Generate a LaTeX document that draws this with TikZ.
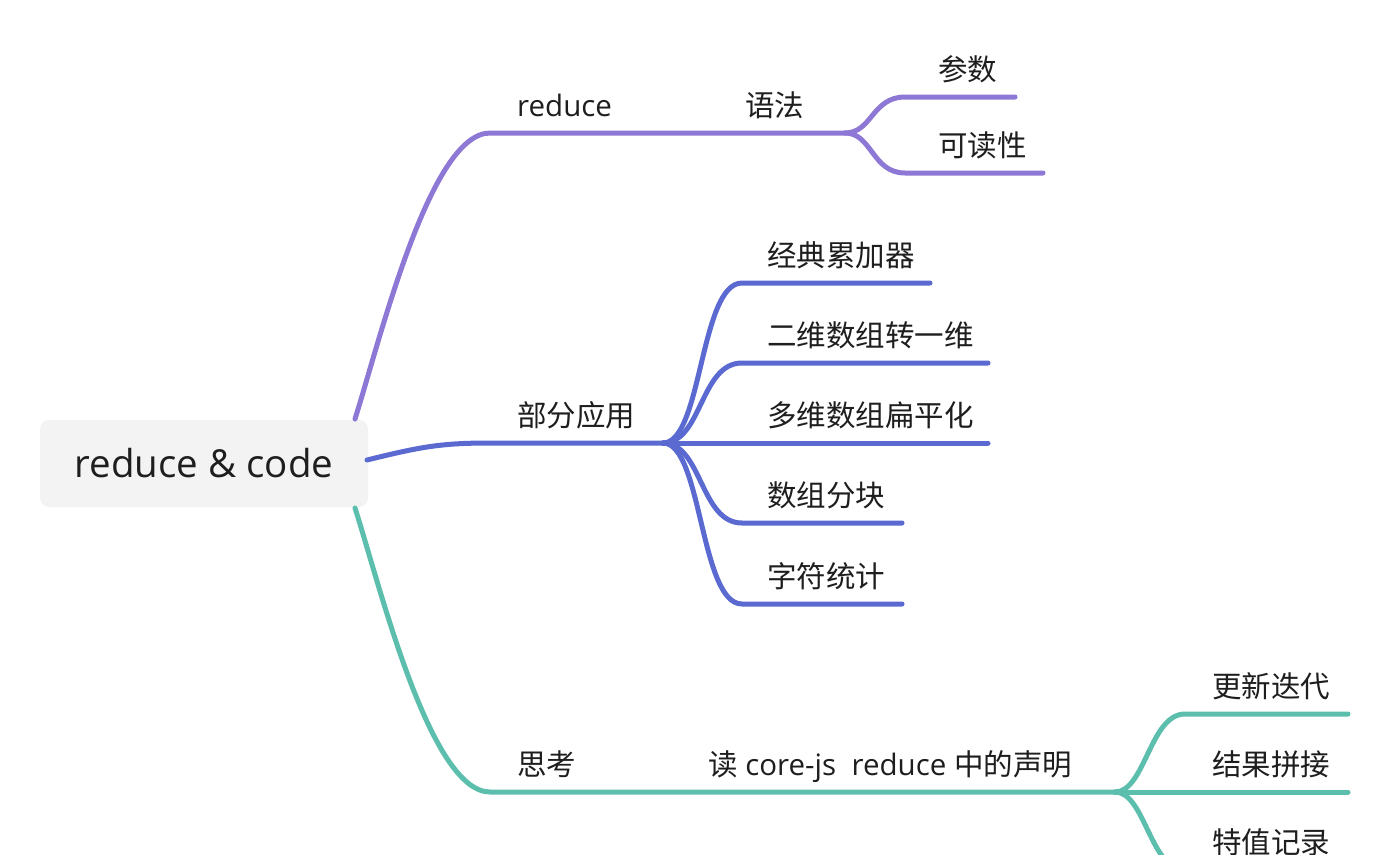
\documentclass[tikz,border=0pt]{standalone}
\usepackage{fontspec}
\setmainfont{Open Sans}
\newfontfamily\cjk{Noto Sans CJK SC}
\definecolor{cpurple}{HTML}{8D78D6}
\definecolor{cblue}{HTML}{5A6AD0}
\definecolor{cteal}{HTML}{5CBEAC}
\definecolor{rootfill}{HTML}{F3F3F3}
\definecolor{txt}{HTML}{1E1E1E}
\begin{document}
\begin{tikzpicture}[x=1pt,y=-1pt,
  rootbox/.style={fill=rootfill,rounded corners=9pt,minimum width=328pt,minimum height=87pt,inner sep=0pt,text=txt,font=\fontsize{38.5}{44}\selectfont},
  lbl/.style={anchor=base west,inner sep=0pt,text=txt,font=\fontsize{29.5}{34}\selectfont},
  conn/.style={line width=5pt,line cap=round},
  pu/.style={conn,draw=cpurple},
  bl/.style={conn,draw=cblue},
  te/.style={conn,draw=cteal}]
\useasboundingbox (0,0) rectangle (1400,854);
\clip (0,0) rectangle (1400,854);
\fill[white] (0,0) rectangle (1400,854);

% root
\node[rootbox] (root) at (204,463.5) {reduce \& code};
\coordinate (rootN) at (355,419);
\coordinate (rootE) at (367,460);
\coordinate (rootS) at (355,508);

% ---- purple branch
\coordinate (reduceL) at (490,133);
\coordinate (syntaxF) at (845,133);
\coordinate (paramL) at (905,97);
\coordinate (paramR) at (1015,97);
\coordinate (readL) at (905,173);
\coordinate (readR) at (1043,173);
\node[lbl] (reduce) at (517,116) {reduce};
\node[lbl] (syntax) at (745,116) {\cjk 语法};
\node[lbl] (param) at (938,80) {\cjk 参数};
\node[lbl] (read) at (938,156) {\cjk 可读性};
\draw[pu] (rootN) .. controls (380,340) and (430,133) .. (reduceL) -- (syntaxF);
\draw[pu] (syntaxF) .. controls (872,133) and (872,97) .. (paramL) -- (paramR);
\draw[pu] (syntaxF) .. controls (872,133) and (872,173) .. (readL) -- (readR);

% ---- blue branch
\coordinate (partL) at (490,443);
\coordinate (partF) at (663,443);
\coordinate (c1L) at (742,283) ; \coordinate (c1R) at (930,283);
\coordinate (c2L) at (742,363) ; \coordinate (c2R) at (988,363);
\coordinate (c3R) at (988,443);
\coordinate (c4L) at (742,523) ; \coordinate (c4R) at (902,523);
\coordinate (c5L) at (742,604) ; \coordinate (c5R) at (902,604);
\node[lbl] (part) at (517,426) {\cjk 部分应用};
\node[lbl] (c1) at (767,266) {\cjk 经典累加器};
\node[lbl] (c2) at (767,346) {\cjk 二维数组转一维};
\node[lbl] (c3) at (767,426) {\cjk 多维数组扁平化};
\node[lbl] (c4) at (767,506) {\cjk 数组分块};
\node[lbl] (c5) at (767,587) {\cjk 字符统计};
\draw[bl] (rootE) .. controls (420,447) and (440,443) .. (partL) -- (partF);
\draw[bl] (partF) .. controls (702,443) and (700,283) .. (c1L) -- (c1R);
\draw[bl] (partF) .. controls (702,443) and (700,363) .. (c2L) -- (c2R);
\draw[bl] (partF) -- (c3R);
\draw[bl] (partF) .. controls (702,443) and (700,523) .. (c4L) -- (c4R);
\draw[bl] (partF) .. controls (702,443) and (700,604) .. (c5L) -- (c5R);

% ---- teal branch
\coordinate (thinkL) at (490,792);
\coordinate (declF) at (1115,792);
\coordinate (d1L) at (1185,714); \coordinate (d1R) at (1348,714);
\coordinate (d2R) at (1348,792);
\coordinate (d3L) at (1185,870); \coordinate (d3R) at (1348,870);
\node[lbl] (think) at (517,775) {\cjk 思考};
\node[lbl] (decl) at (708,775) {{\cjk 读} core-js\ \ reduce {\cjk 中的声明}};
\node[lbl] (d1) at (1212,697) {\cjk 更新迭代};
\node[lbl] (d2) at (1212,775) {\cjk 结果拼接};
\node[lbl] (d3) at (1212,853) {\cjk 特值记录};
\draw[te] (rootS) .. controls (380,586) and (430,792) .. (thinkL) -- (declF);
\draw[te] (declF) .. controls (1145,792) and (1150,714) .. (d1L) -- (d1R);
\draw[te] (declF) -- (d2R);
\draw[te] (declF) .. controls (1145,792) and (1150,870) .. (d3L) -- (d3R);
\end{tikzpicture}
\end{document}
